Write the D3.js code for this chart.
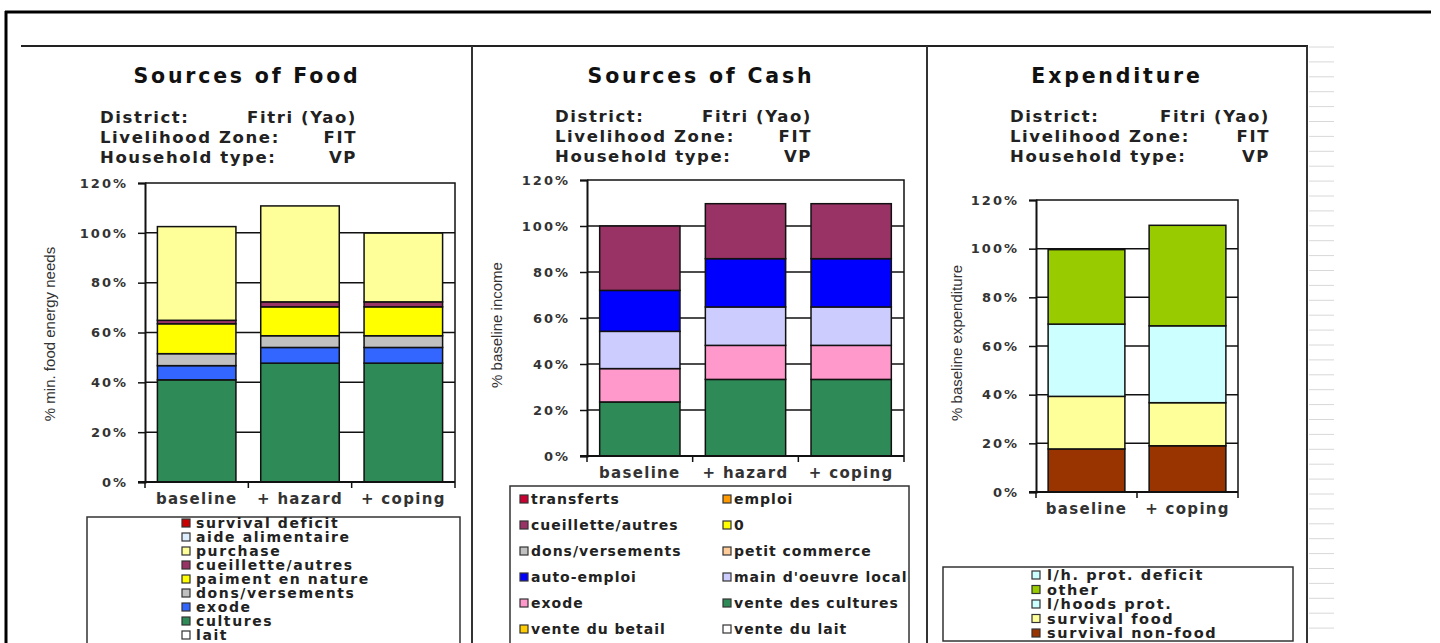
<!DOCTYPE html>
<html>
<head>
<meta charset="utf-8">
<script src="https://cdn.jsdelivr.net/npm/d3@7"></script>
<style>
  body { margin: 0; background: #fff; }
  svg { display: block; }
  text { font-family: "DejaVu Sans", Verdana, sans-serif; }
  .title { font-size: 20.5px; font-weight: bold; fill: #111; letter-spacing: 2.8px; }
  .info { font-size: 16.5px; font-weight: bold; fill: #222; letter-spacing: 1.6px; }
  .tick text { font-size: 13px; font-weight: bold; fill: #333; letter-spacing: 2px; }
  .cat { font-size: 15px; font-weight: bold; fill: #333; letter-spacing: 1.3px; }
  .ytitle { font-family: "Liberation Sans Narrow", "Liberation Sans", sans-serif; font-size: 15px; fill: #333; }
  .legend text { font-weight: bold; fill: #222; }
</style>
</head>
<body>
<svg id="chart"></svg>
<script>
const fullWidth = 1440;
const fullHeight = 643;

// --- data ---
const infoLabels = ['District:', 'Livelihood Zone:', 'Household type:'];
const infoValues = ['Fitri (Yao)', 'FIT', 'VP'];
const yTicks = [0, 0.2, 0.4, 0.6, 0.8, 1.0, 1.2];

const foodScenarios = ['baseline', '+ hazard', '+ coping'];
const foodSeries = ['lait', 'cultures', 'exode', 'dons/versements', 'paiment en nature',
    'cueillette/autres', 'purchase', 'aide alimentaire', 'survival deficit'];
const foodColors = ['#ffffff', '#2e8b57', '#3366ff', '#c0c0c0', '#ffff00',
    '#993366', '#ffff99', '#ddeeff', '#cc0000'];
const foodValues = [
    [0, 0, 0],          // lait
    [41, 47.7, 47.7],   // cultures
    [5.7, 6.3, 6.3],    // exode
    [4.8, 4.7, 4.7],    // dons/versements
    [12, 11.6, 11.6],   // paiment en nature
    [1.4, 2, 2],        // cueillette/autres
    [37.6, 38.5, 27.6], // purchase
    [0, 0, 0],          // aide alimentaire
    [0, 0, 0],          // survival deficit
];

const cashScenarios = ['baseline', '+ hazard', '+ coping'];
const cashSeries = ['vente du lait', 'vente du betail', 'vente des cultures', 'exode',
    "main d'oeuvre local", 'auto-emploi', 'petit commerce', 'dons/versements', '0',
    'cueillette/autres', 'emploi', 'transferts'];
const cashColors = ['#ffffff', '#ffcc00', '#2e8b57', '#ff99cc', '#ccccff', '#0000ff',
    '#ffcc99', '#c0c0c0', '#ffff00', '#993366', '#ff9900', '#cc0033'];
const cashValues = [
    [0, 0, 0],
    [0, 0, 0],
    [23.5, 33.3, 33.3],
    [14.5, 14.8, 14.8],
    [16.2, 16.7, 16.7],
    [17.8, 21, 21],
    [0, 0, 0],
    [0, 0, 0],
    [0, 0, 0],
    [28, 23.9, 23.9],
    [0, 0, 0],
    [0, 0, 0],
];

const expScenarios = ['baseline', '+ coping'];
const expSeries = ['survival non-food', 'survival food', 'l/hoods prot.', 'other', 'l/h. prot. deficit'];
const expColors = ['#993300', '#ffff99', '#ccffff', '#99cc00', '#ccffff'];
const expValues = [
    [17.7, 19],
    [21.6, 17.7],
    [29.7, 31.6],
    [30.6, 41.3],
    [0, 0],
];

// --- layout ---
const panels = [
    {
        title: 'Sources of Food', titleX: 247, titleY: 83,
        infoX: 100, infoRight: 357, infoY: 123, infoStep: 20,
        plot: {x0: 145, x1: 455, y0: 183, y1: 482},
        yTitle: '% min. food energy needs', yTitleX: 55, yTitleY: 334,
        scenarios: foodScenarios, series: foodSeries, colors: foodColors, values: foodValues,
        legend: {x0: 87, x1: 460, y0: 517, y1: 650, swX: 182, txX: 196, rowY: 523, rowStep: 14,
            cols: 1, font: 14, spacing: 1.6},
    },
    {
        title: 'Sources of Cash', titleX: 701, titleY: 83,
        infoX: 555, infoRight: 812, infoY: 122, infoStep: 20,
        plot: {x0: 587, x1: 904, y0: 180, y1: 456},
        yTitle: '% baseline income', yTitleX: 502, yTitleY: 325,
        scenarios: cashScenarios, series: cashSeries, colors: cashColors, values: cashValues,
        legend: {x0: 510, x1: 909, y0: 486, y1: 650, swX: 520, txX: 531, rowY: 499, rowStep: 26,
            cols: 2, colStep: 203, font: 14, spacing: 1},
    },
    {
        title: 'Expenditure', titleX: 1117, titleY: 83,
        infoX: 1010, infoRight: 1270, infoY: 122, infoStep: 20,
        plot: {x0: 1036, x1: 1238, y0: 200, y1: 492},
        yTitle: '% baseline expenditure', yTitleX: 962, yTitleY: 343,
        scenarios: expScenarios, series: expSeries, colors: expColors, values: expValues,
        legend: {x0: 943, x1: 1293, y0: 567, y1: 641, swX: 1032, txX: 1047, rowY: 575, rowStep: 14.5,
            cols: 1, font: 14.5, spacing: 1.6},
    },
];

const svg = d3.select('#chart')
    .attr('width', fullWidth)
    .attr('height', fullHeight);

// frame lines
const frame = svg.append('g').attr('class', 'frame');
frame.append('line').attr('x1', 5).attr('x2', 1431).attr('y1', 12).attr('y2', 12)
    .attr('stroke', '#000').attr('stroke-width', 3);
frame.append('line').attr('x1', 6).attr('x2', 6).attr('y1', 11).attr('y2', fullHeight)
    .attr('stroke', '#000').attr('stroke-width', 3);
frame.append('line').attr('x1', 21).attr('x2', 1308).attr('y1', 46).attr('y2', 46)
    .attr('stroke', '#222').attr('stroke-width', 2);
[472, 927, 1307].forEach(x => {
    frame.append('line').attr('x1', x).attr('x2', x).attr('y1', 46).attr('y2', fullHeight)
        .attr('stroke', '#333').attr('stroke-width', 2);
});
// spreadsheet grid remnants on the right
d3.range(47, fullHeight, 14.9).forEach(y => {
    frame.append('line').attr('x1', 1309).attr('x2', 1334).attr('y1', y).attr('y2', y)
        .attr('stroke', '#d8d8d8').attr('stroke-width', 1);
});

function drawPanel(p) {
    const g = svg.append('g');

    g.append('text').attr('class', 'title')
        .attr('x', p.titleX).attr('y', p.titleY)
        .attr('text-anchor', 'middle')
        .text(p.title);

    infoLabels.forEach((lab, i) => {
        g.append('text').attr('class', 'info')
            .attr('x', p.infoX).attr('y', p.infoY + i * p.infoStep).text(lab);
        g.append('text').attr('class', 'info')
            .attr('x', p.infoRight).attr('y', p.infoY + i * p.infoStep)
            .attr('text-anchor', 'end').text(infoValues[i]);
    });

    const x = d3.scaleBand()
        .domain(p.scenarios)
        .range([p.plot.x0, p.plot.x1])
        .paddingInner(0.24)
        .paddingOuter(0.12);

    const y = d3.scaleLinear()
        .domain([0, 1.2])
        .range([p.plot.y1, p.plot.y0]);

    // gridlines
    g.append('g').selectAll('line').data(yTicks.slice(1, -1))
        .enter().append('line')
            .attr('x1', p.plot.x0).attr('x2', p.plot.x1)
            .attr('y1', d => y(d)).attr('y2', d => y(d))
            .attr('stroke', '#111').attr('stroke-width', 1.5);

    // stacked bars
    const rows = p.scenarios.map((s, j) => {
        const row = {scenario: s};
        p.series.forEach((name, i) => { row[name] = p.values[i][j] / 100; });
        return row;
    });
    const stacked = d3.stack().keys(p.series)(rows);

    g.append('g').selectAll('g').data(stacked)
        .enter().append('g')
            .attr('fill', (d, i) => p.colors[i])
        .selectAll('rect').data(d => d.filter(v => v[1] - v[0] > 0))
        .enter().append('rect')
            .attr('x', d => x(d.data.scenario))
            .attr('width', x.bandwidth())
            .attr('y', d => y(d[1]))
            .attr('height', d => y(d[0]) - y(d[1]))
            .attr('stroke', '#111')
            .attr('stroke-width', 1.5);

    // plot border (top and right)
    g.append('path')
        .attr('d', `M${p.plot.x0},${p.plot.y0}H${p.plot.x1}V${p.plot.y1}`)
        .attr('fill', 'none').attr('stroke', '#111').attr('stroke-width', 1.5);

    // y axis
    const yAxis = g.append('g')
        .attr('transform', `translate(${p.plot.x0},0)`)
        .call(d3.axisLeft(y).tickValues(yTicks).tickFormat(d3.format('.0%'))
            .tickSize(7).tickPadding(10));
    yAxis.select('.domain').attr('stroke', '#111').attr('stroke-width', 2);
    yAxis.selectAll('.tick line').attr('stroke', '#111').attr('stroke-width', 1.5);

    // x axis: line, boundary ticks, labels
    const step = x.step();
    const bounds = d3.range(p.scenarios.length + 1).map(i => p.plot.x0 + i * step);
    g.append('line')
        .attr('x1', p.plot.x0 - 7).attr('x2', p.plot.x1)
        .attr('y1', p.plot.y1).attr('y2', p.plot.y1)
        .attr('stroke', '#111').attr('stroke-width', 2);
    g.append('g').selectAll('line').data(bounds)
        .enter().append('line')
            .attr('x1', d => d).attr('x2', d => d)
            .attr('y1', p.plot.y1).attr('y2', p.plot.y1 + 6)
            .attr('stroke', '#111').attr('stroke-width', 1.5);
    g.append('g').selectAll('text').data(p.scenarios)
        .enter().append('text')
            .attr('class', 'cat')
            .attr('x', d => x(d) + x.bandwidth() / 2)
            .attr('y', p.plot.y1 + 22)
            .attr('text-anchor', 'middle')
            .text(d => d);

    // y title
    g.append('text').attr('class', 'ytitle')
        .attr('transform', `translate(${p.yTitleX},${p.yTitleY}) rotate(-90)`)
        .attr('text-anchor', 'middle')
        .text(p.yTitle);

    // legend
    const L = p.legend;
    const lg = g.append('g').attr('class', 'legend');
    lg.append('rect')
        .attr('x', L.x0).attr('y', L.y0)
        .attr('width', L.x1 - L.x0).attr('height', L.y1 - L.y0)
        .attr('fill', '#fff').attr('stroke', '#333').attr('stroke-width', 1.5);
    const order = p.series.map((s, i) => i).reverse();
    order.forEach((si, k) => {
        const col = k % L.cols;
        const row = Math.floor(k / L.cols);
        const dx = col * (L.colStep || 0);
        const cy = L.rowY + row * L.rowStep;
        lg.append('rect')
            .attr('x', L.swX + dx).attr('y', cy - 4)
            .attr('width', 8).attr('height', 8)
            .attr('fill', p.colors[si]).attr('stroke', '#333').attr('stroke-width', 1.2);
        lg.append('text')
            .attr('x', L.txX + dx).attr('y', cy + 5)
            .style('font-size', L.font + 'px')
            .style('letter-spacing', L.spacing + 'px')
            .text(p.series[si]);
    });
}

panels.forEach(drawPanel);
</script>
</body>
</html>
